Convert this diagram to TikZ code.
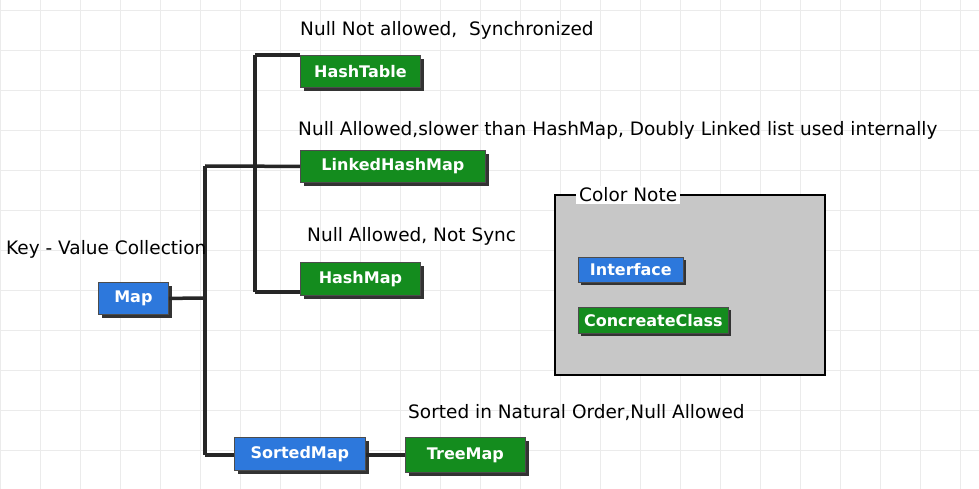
\documentclass[tikz,border=0pt]{standalone}
\usepackage{fontspec}
\setmainfont{DejaVu Sans}
\begin{document}
\begin{tikzpicture}[x=1pt,y=-1pt,
  box/.style={draw=black!70,line width=0.8pt,text=white,font=\fontsize{16}{18}\selectfont\bfseries,anchor=north west,inner sep=0pt,align=center},
  iface/.style={box,fill={rgb,255:red,45;green,120;blue,220}},
  cls/.style={box,fill={rgb,255:red,20;green,140;blue,30}},
  lbl/.style={anchor=west,font=\fontsize{18.5}{21}\selectfont,inner sep=0pt},
  conn/.style={line width=3.5pt,black!85}]
\useasboundingbox (0,0) rectangle (979,489);
\fill[white] (0,0) rectangle (979,489);
\foreach \x in {0,40,...,979} \draw[black!8,line width=0.8pt] (\x,0) -- (\x,489);
\foreach \y in {10,50,...,489} \draw[black!8,line width=0.8pt] (0,\y) -- (979,\y);
\coordinate (j1) at (205,298);
\coordinate (j1t) at (205,166);
\coordinate (j1b) at (205,455);
\coordinate (j2t) at (255,55);
\coordinate (j2b) at (255,292);
\foreach \a/\b/\c/\d in {98/282/168/314,300/55/420/87,300/150/485/182,300/262/420/295,234/437/365/470,405/437/525/472}
  \fill[black!80] (\a+4,\b+4) rectangle (\c+4,\d+4);
\node[iface,minimum width=70pt,minimum height=32pt] (map) at (98,282) {Map};
\node[cls,minimum width=120pt,minimum height=32pt] (ht) at (300,55) {HashTable};
\node[cls,minimum width=185pt,minimum height=32pt] (lhm) at (300,150) {LinkedHashMap};
\node[cls,minimum width=120pt,minimum height=33pt] (hm) at (300,262) {HashMap};
\node[iface,minimum width=131pt,minimum height=33pt] (sm) at (234,437) {SortedMap};
\node[cls,minimum width=120pt,minimum height=35pt] (tm) at (405,437) {TreeMap};
\draw[conn] (map.east) -- (j1);
\draw[conn] (j1t) -- (j1b);
\draw[conn] (j1t) -- (lhm.west);
\draw[conn] (j1b) -- (sm.west|-j1b);
\draw[conn] (j2t) -- (j2b);
\draw[conn] (j2t) -- (ht.north west);
\draw[conn] (j2b) -- (hm.west|-j2b);
\draw[conn] (sm.east|-j1b) -- (tm.west|-j1b);
\node[lbl] (t1) at (300,30) {Null Not allowed, \ Synchronized};
\node[lbl] (t2) at (298,130) {Null Allowed,slower than HashMap, Doubly Linked list used internally};
\node[lbl] (t3) at (307,236) {Null Allowed, Not Sync};
\node[lbl] (t4) at (408,413) {Sorted in Natural Order,Null Allowed};
\node[lbl] (t5) at (6,249) {Key - Value Collection};
\draw[line width=1.5pt,fill=black!22] (555,195) rectangle (825,375);
\node[lbl,fill=white,inner xsep=3pt,inner ysep=2pt] (cn) at (576,195) {Color Note};
\fill[black!80] (581,260) rectangle (686,285);
\fill[black!80] (581,310) rectangle (731,336);
\node[iface,minimum width=105pt,minimum height=25pt] (if) at (578,257) {Interface};
\node[cls,minimum width=150pt,minimum height=26pt] (cc) at (578,307) {ConcreateClass};
\end{tikzpicture}
\end{document}
